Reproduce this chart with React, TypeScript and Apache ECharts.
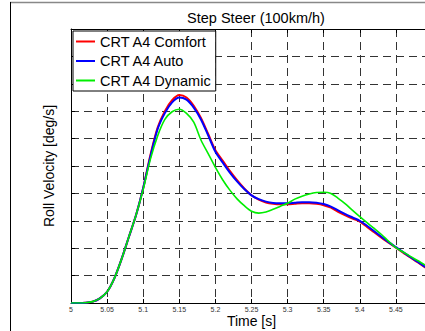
import React, { useEffect, useRef } from "react";
import * as echarts from "echarts";

const timeValues = [
  5.0, 5.01, 5.02, 5.03, 5.04, 5.05, 5.06, 5.07, 5.08, 5.09,
  5.1, 5.11, 5.12, 5.13, 5.14, 5.15, 5.16, 5.17, 5.18, 5.19,
  5.2, 5.21, 5.22, 5.23, 5.24, 5.25, 5.26, 5.27, 5.28, 5.29,
  5.3, 5.31, 5.32, 5.33, 5.34, 5.35, 5.36, 5.37, 5.38, 5.39,
  5.4, 5.41, 5.42, 5.43, 5.44, 5.45, 5.46, 5.47, 5.48, 5.49, 5.5,
];

const comfort = [
  0, 0, 0.01, 0.05, 0.17, 0.41, 0.9, 1.6, 2.4, 3.2,
  4.2, 5.4, 6.4, 7.0, 7.4, 7.59, 7.5, 7.2, 6.75, 6.17,
  5.58, 5.2, 4.82, 4.48, 4.18, 3.93, 3.77, 3.67, 3.62, 3.6,
  3.6, 3.62, 3.64, 3.64, 3.62, 3.57, 3.48, 3.33, 3.2, 3.08,
  2.97, 2.78, 2.58, 2.38, 2.2, 2.02, 1.84, 1.66, 1.49, 1.31, 1.14,
];

const auto = [
  0, 0, 0.01, 0.05, 0.17, 0.41, 0.9, 1.6, 2.4, 3.2,
  4.2, 5.35, 6.35, 6.93, 7.32, 7.5, 7.42, 7.13, 6.7, 6.12,
  5.52, 5.13, 4.76, 4.44, 4.16, 3.93, 3.79, 3.7, 3.65, 3.64,
  3.64, 3.66, 3.68, 3.68, 3.66, 3.61, 3.52, 3.38, 3.24, 3.12,
  3.0, 2.82, 2.62, 2.42, 2.22, 2.04, 1.86, 1.68, 1.51, 1.33, 1.16,
];

const dynamic = [
  0, 0, 0.01, 0.05, 0.17, 0.41, 0.9, 1.6, 2.4, 3.2,
  4.15, 5.25, 6.1, 6.7, 6.98, 7.07, 6.92, 6.6, 5.95, 5.45,
  4.95, 4.5, 4.12, 3.8, 3.55, 3.35, 3.28, 3.32, 3.42, 3.53,
  3.64, 3.79, 3.9, 3.98, 4.03, 4.04, 4.0, 3.82, 3.62, 3.38,
  3.15, 2.93, 2.72, 2.5, 2.25, 2.02, 1.86, 1.7, 1.55, 1.39, 1.24,
];

const seriesNames = ["CRT A4 Comfort", "CRT A4 Auto", "CRT A4 Dynamic"];
const seriesColors = ["#ff0000", "#0000ff", "#00ee00"];

const xMin = 5;
const xMax = 5.5;
const xStep = 0.05;
const yMin = 0;
const yMax = 10;
const yStep = 1;

export default function App() {
  const ref = useRef<HTMLDivElement>(null);
  useEffect(() => {
    if (!ref.current) return;
    const chart = echarts.init(ref.current, null, { renderer: "svg" });
    const all = [comfort, auto, dynamic];
    const font = "Liberation Sans, Arial, sans-serif";
    const dash = { color: "#333", type: [8, 5], width: 1 };
    chart.setOption({
      animation: false,
      backgroundColor: "#ffffff",
      title: {
        text: "Step Steer (100km/h)",
        left: 251,
        top: 5,
        textAlign: "center",
        textStyle: { fontFamily: font, fontSize: 14.5, fontWeight: "normal", color: "#000" },
      },
      graphic: [
        { type: "line", shape: { x1: 10, y1: 2.5, x2: 450, y2: 2.5 }, style: { stroke: "#888", lineWidth: 1.5 } },
        { type: "line", shape: { x1: 10.5, y1: 2, x2: 10.5, y2: 331 }, style: { stroke: "#000", lineWidth: 1 } },
      ],
      legend: {
        orient: "vertical",
        left: 73,
        top: 31,
        padding: [3, 4, 3, 3],
        icon: "rect",
        itemWidth: 19,
        itemHeight: 2,
        itemGap: 4.5,
        borderColor: "#000",
        borderWidth: 1,
        borderRadius: 0,
        backgroundColor: "#fff",
        textStyle: { fontFamily: font, fontSize: 14.5, color: "#000", lineHeight: 15 },
        data: seriesNames,
      },
      grid: {
        left: 71,
        top: 29,
        width: 361,
        height: 274,
        outerBoundsMode: "none",
        containLabel: false,
        show: false,
      },
      xAxis: [
        {
          type: "value",
          min: xMin,
          max: xMax,
          interval: xStep,
          name: "Time [s]",
          nameLocation: "middle",
          nameGap: 10,
          nameMoveOverlap: false,
          nameTextStyle: { fontFamily: font, fontSize: 14, color: "#000", lineHeight: 15 },
          axisLine: { show: true, lineStyle: { color: "#000", width: 1 } },
          axisTick: { show: true, inside: true, length: 4, lineStyle: { color: "#000" } },
          axisLabel: {
            fontFamily: font,
            fontSize: 7,
            lineHeight: 8,
            color: "#333",
            margin: 2,
            showMaxLabel: false,
          },
          splitLine: { show: true, lineStyle: dash },
        },
        {
          type: "value",
          position: "top",
          min: xMin,
          max: xMax,
          interval: xStep,
          axisLine: { show: true, lineStyle: { color: "#000", width: 1 } },
          axisTick: { show: true, inside: true, length: 4, lineStyle: { color: "#000" } },
          axisLabel: { show: false },
          splitLine: { show: false },
        },
      ],
      yAxis: {
        type: "value",
        min: yMin,
        max: yMax,
        interval: yStep,
        name: "Roll Velocity [deg/s]",
        nameLocation: "middle",
        nameGap: 15,
        nameRotate: 90,
        nameTextStyle: { fontFamily: font, fontSize: 14, color: "#000" },
        axisLine: { show: true, onZero: false, lineStyle: { color: "#000", width: 1 } },
        axisTick: { show: true, inside: true, length: 4, lineStyle: { color: "#000" } },
        axisLabel: { show: false },
        splitLine: { show: true, lineStyle: dash },
      },
      series: seriesNames.map((name, i) => ({
        name,
        type: "line",
        symbol: "none",
        smooth: 0.3,
        color: seriesColors[i],
        lineStyle: { color: seriesColors[i], width: i === 2 ? 1.6 : 2 },
        data: timeValues.map((t, k) => [t, all[i][k]]),
        z: 3 + i,
      })),
    });
    return () => chart.dispose();
  }, []);
  return (
    <div
      ref={ref}
      style={{ position: "fixed", left: 0, top: 0, width: 450, height: 331, background: "#fff", overflow: "hidden" }}
    />
  );
}
